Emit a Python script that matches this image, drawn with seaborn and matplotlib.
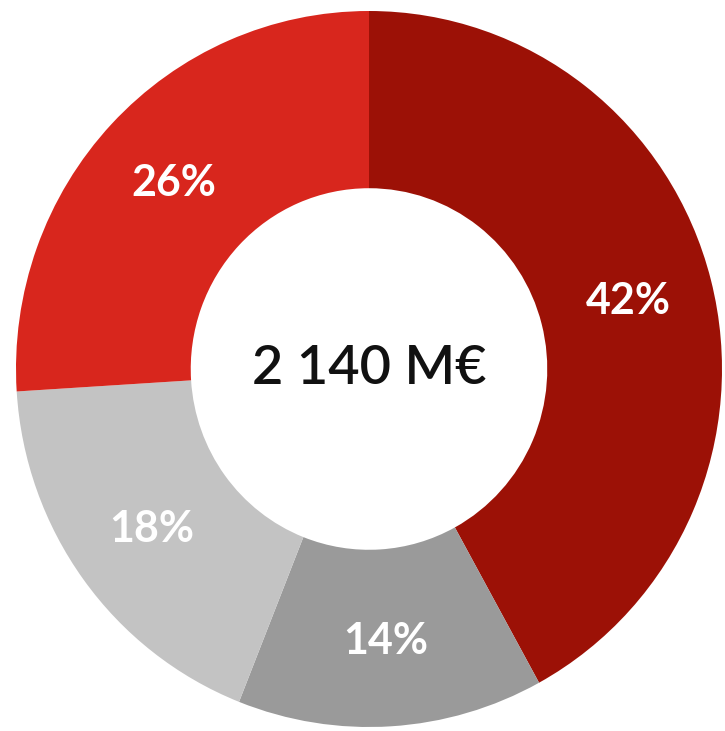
import numpy as np
import seaborn as sns
import matplotlib.pyplot as plt

# parts of the total, clockwise from the top
shares = [42, 14, 18, 26]
labels = ['42%', '14%', '18%', '26%']
colors = ['#9c1106', '#9a9a9a', '#c3c3c3', '#d8261d']
total_text = '2 140 M€'

sns.set_theme(style='white')
plt.rcParams['font.family'] = ['Lato', 'DejaVu Sans']

fig = plt.figure(figsize=(7.25, 7.31), dpi=100)
# donut sits slightly stretched vertically in the source picture
ax = fig.add_axes([16 / 725, 4 / 731, 706 / 725, 716 / 731])

wedges, texts = ax.pie(shares, colors=sns.color_palette(colors), startangle=90,
                       counterclock=False, radius=1,
                       wedgeprops=dict(width=0.495, linewidth=0))

for w, lab in zip(wedges, labels):
    ang = np.deg2rad((w.theta1 + w.theta2) / 2)
    ax.text(0.76 * np.cos(ang), 0.76 * np.sin(ang), lab, ha='center', va='center',
            color='white', fontsize=31, fontweight='bold')

ax.text(0, 0, total_text, ha='center', va='center', fontsize=39,
        fontweight='semibold', color='#111111')
ax.set_aspect('auto')
ax.set_xlim(-1, 1)
ax.set_ylim(-1, 1)
ax.axis('off')

fig.savefig('out.png', dpi=100)
